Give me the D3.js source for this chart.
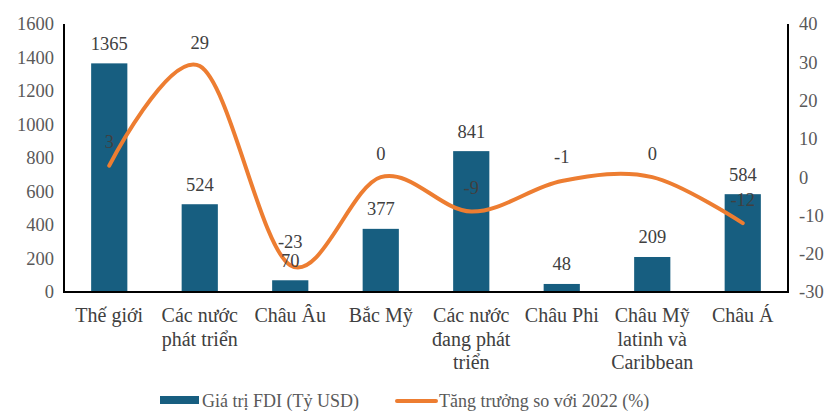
<!DOCTYPE html>
<html>
<head>
<meta charset="utf-8">
<script src="https://cdn.jsdelivr.net/npm/d3@7"></script>
<style>
  body { margin: 0; background: #fff; }
</style>
</head>
<body>
<div id="chart"></div>
<script>
// data
var categories = ["Thế giới", "Các nước|phát triển", "Châu Âu", "Bắc Mỹ",
  "Các nước|đang phát|triển", "Châu Phi", "Châu Mỹ|latinh và|Caribbean", "Châu Á"];
var fdiValues = [1365, 524, 70, 377, 841, 48, 209, 584];
var growthValues = [3, 29, -23, 0, -9, -1, 0, -12];
var leftTicks = [0, 200, 400, 600, 800, 1000, 1200, 1400, 1600];
var rightTicks = [-30, -20, -10, 0, 10, 20, 30, 40];

var margin = {top: 24, right: 43, bottom: 121, left: 64},
    width = 831 - margin.left - margin.right,
    height = 413 - margin.top - margin.bottom;

var root = d3.select("#chart")
  .append("svg")
    .attr("width", 831)
    .attr("height", 413)
    .style("font-family", "'Liberation Serif', 'Times New Roman', serif");

var svg = root.append("g")
    .attr("transform", "translate(" + margin.left + "," + margin.top + ")");

var x = d3.scaleBand()
  .domain(categories)
  .range([0, width])
  .paddingInner(0.6)
  .paddingOuter(0.3);

var y = d3.scaleLinear().domain([0, 1600]).range([height, 0]);
var y2 = d3.scaleLinear().domain([-30, 40]).range([height, 0]);

// tick labels
svg.append("g")
  .selectAll("text")
  .data(leftTicks)
  .enter().append("text")
    .attr("x", -10)
    .attr("y", function(d) { return y(d); })
    .attr("dy", "0.35em")
    .attr("text-anchor", "end")
    .style("font-size", "18.5px")
    .style("fill", "#595959")
    .text(function(d) { return d; });

svg.append("g")
  .selectAll("text")
  .data(rightTicks)
  .enter().append("text")
    .attr("x", width + 11)
    .attr("y", function(d) { return y2(d); })
    .attr("dy", "0.35em")
    .attr("text-anchor", "start")
    .style("font-size", "18.5px")
    .style("fill", "#595959")
    .text(function(d) { return d; });

// bars
svg.append("g")
  .selectAll("rect")
  .data(fdiValues)
  .enter().append("rect")
    .attr("x", function(d, i) { return x(categories[i]); })
    .attr("y", function(d) { return y(d); })
    .attr("width", x.bandwidth())
    .attr("height", function(d) { return height - y(d); })
    .style("fill", "#175e80");

// axis lines
svg.append("line").attr("x1", 0).attr("x2", 0).attr("y1", 0).attr("y2", height)
  .style("stroke", "#000").style("stroke-width", 2);
svg.append("line").attr("x1", width).attr("x2", width).attr("y1", 0).attr("y2", height)
  .style("stroke", "#000").style("stroke-width", 2);
svg.append("line").attr("x1", -1).attr("x2", width + 1).attr("y1", height).attr("y2", height)
  .style("stroke", "#000").style("stroke-width", 2);

// growth line
var cx = function(i) { return x(categories[i]) + x.bandwidth() / 2; };
var line = d3.line()
  .x(function(d, i) { return cx(i); })
  .y(function(d) { return y2(d); })
  .curve(d3.curveCatmullRom.alpha(0));

svg.append("path")
  .datum(growthValues)
  .attr("d", line)
  .style("fill", "none")
  .style("stroke", "#ed7d31")
  .style("stroke-width", 4)
  .style("stroke-linecap", "round");

// bar labels
svg.append("g")
  .selectAll("text")
  .data(fdiValues)
  .enter().append("text")
    .attr("x", function(d, i) { return cx(i); })
    .attr("y", function(d) { return y(d) - 20; })
    .attr("dy", "0.35em")
    .attr("text-anchor", "middle")
    .style("font-size", "18.5px")
    .style("fill", "#404040")
    .text(function(d) { return d; });

// line labels
svg.append("g")
  .selectAll("text")
  .data(growthValues)
  .enter().append("text")
    .attr("x", function(d, i) { return cx(i); })
    .attr("y", function(d) { return y2(d) - 24; })
    .attr("dy", "0.35em")
    .attr("text-anchor", "middle")
    .style("font-size", "18.5px")
    .style("fill", "#404040")
    .text(function(d) { return d; });

// category labels
var cat = svg.append("g")
  .selectAll("text")
  .data(categories)
  .enter().append("text")
    .attr("x", function(d, i) { return cx(i); })
    .attr("y", height + 30)
    .attr("text-anchor", "middle")
    .style("font-size", "20px")
    .style("fill", "#404040");

cat.selectAll("tspan")
  .data(function(d) { return d.split("|"); })
  .enter().append("tspan")
    .attr("x", function() { return this.parentNode.getAttribute("x"); })
    .attr("dy", function(d, i) { return i === 0 ? 0 : 23.5; })
    .text(function(d) { return d; });

// legend
var legend = root.append("g");
legend.append("rect")
  .attr("x", 160).attr("y", 396).attr("width", 39).attr("height", 8)
  .style("fill", "#175e80");
legend.append("text")
  .attr("x", 202).attr("y", 401).attr("dy", "0.35em")
  .style("font-size", "18px").style("fill", "#595959")
  .text("Giá trị FDI (Tỷ USD)");
legend.append("line")
  .attr("x1", 397).attr("x2", 436).attr("y1", 401).attr("y2", 401)
  .style("stroke", "#ed7d31").style("stroke-width", 4).style("stroke-linecap", "round");
legend.append("text")
  .attr("x", 439).attr("y", 401).attr("dy", "0.35em")
  .style("font-size", "18px").style("fill", "#595959")
  .text("Tăng trưởng so với 2022 (%)");
</script>
</body>
</html>
